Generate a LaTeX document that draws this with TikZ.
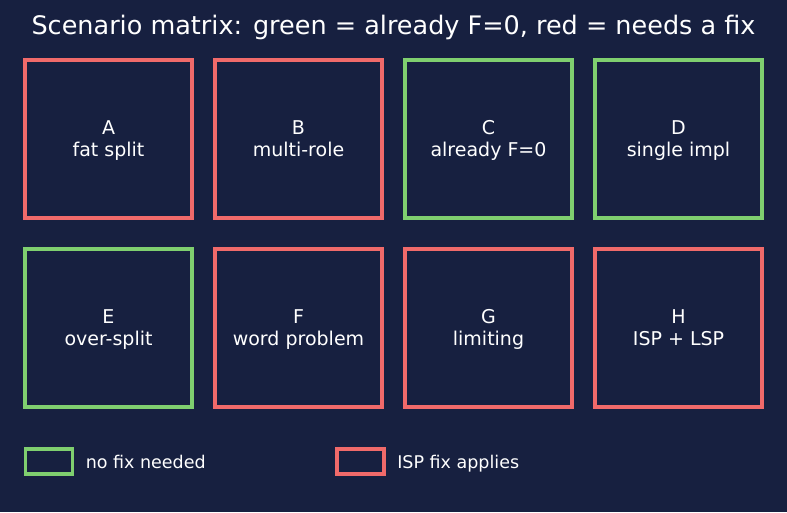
\documentclass[tikz,border=0pt]{standalone}
\usepackage{fontspec}
\setmainfont{DejaVu Sans}
\usetikzlibrary{positioning}
\definecolor{bgnavy}{HTML}{172040}
\definecolor{fixred}{HTML}{F06A6A}
\definecolor{okgreen}{HTML}{7FCF6F}
\newcommand{\celltext}[2]{\rule{0pt}{19.5pt}#1\\#2\strut}

\begin{document}
\begin{tikzpicture}[x=1pt, y=-1pt,
  cell/.style={draw, line width=3.5pt, minimum width=167pt, minimum height=158pt,
               align=center, text=white, font=\fontsize{19}{22}\selectfont},
  redcell/.style={cell, draw=fixred},
  greencell/.style={cell, draw=okgreen},
  key/.style={draw, line width=3.5pt, minimum width=47pt, minimum height=25pt},
  keylab/.style={text=white, anchor=west, text height=17pt, text depth=4pt,
                 font=\fontsize{17.5}{20}\selectfont}]
  \fill[bgnavy] (0,0) rectangle (787,512);
  \useasboundingbox (0,0) rectangle (787,512);
  \node[text=white, font=\fontsize{25.5}{30}\selectfont] (title) at (393.5,27)
    {Scenario matrix: green = already F=0, red = needs a fix};
  % first row
  \node[redcell] (a) at (108.5,139) {\celltext{A}{fat split}};
  \node[redcell] (b) at (298.5,139) {\celltext{B}{multi-role}};
  \node[greencell] (c) at (488.5,139) {\celltext{C}{already F=0}};
  \node[greencell] (d) at (678.5,139) {\celltext{D}{single impl}};
  % second row
  \node[greencell] (e) at (108.5,328) {\celltext{E}{over-split}};
  \node[redcell] (f) at (298.5,328) {\celltext{F}{word problem}};
  \node[redcell] (g) at (488.5,328) {\celltext{G}{limiting}};
  \node[redcell] (h) at (678.5,328) {\celltext{H}{ISP + LSP}};
  % legend
  \node[key, draw=okgreen] (keyok) at (49,461.5) {};
  \node[keylab, right=8pt of keyok] (keyoklab) {no fix needed};
  \node[key, draw=fixred] (keyfix) at (360.5,461.5) {};
  \node[keylab, right=8pt of keyfix] (keyfixlab) {ISP fix applies};
\end{tikzpicture}
\end{document}
